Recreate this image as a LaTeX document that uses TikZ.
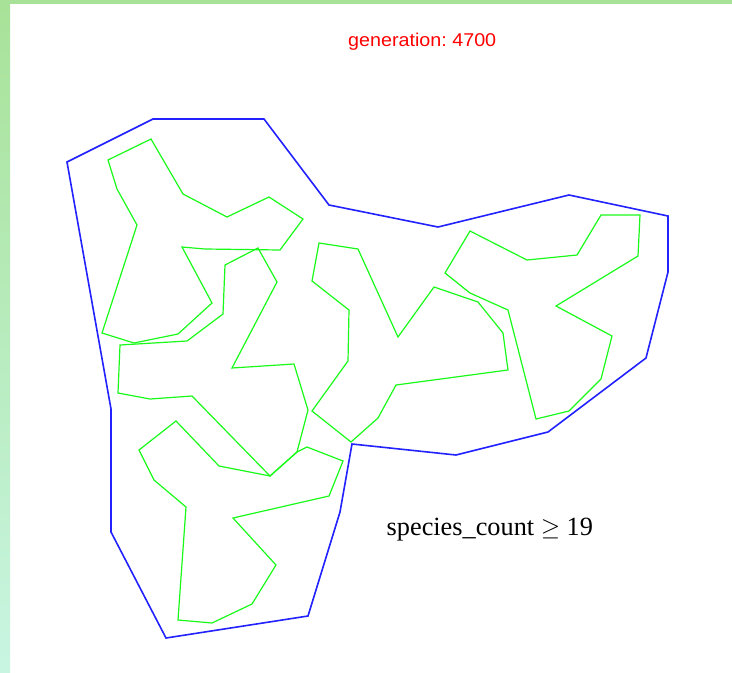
\documentclass[tikz,border=0pt]{standalone}
\usepackage{fontspec}
\setmainfont{Liberation Serif}
\newfontfamily\gensans{Liberation Sans}
\definecolor{stripA}{RGB}{168,226,152}
\definecolor{stripB}{RGB}{186,243,214}
\definecolor{stripC}{RGB}{200,245,226}
\definecolor{hullblue}{RGB}{34,34,255}
\definecolor{polygreen}{RGB}{25,250,25}
\definecolor{genred}{RGB}{255,0,0}
\tikzset{
  hull/.style={draw=hullblue, line width=1.6pt, line join=miter},
  organism/.style={draw=polygreen, line width=1.2pt, line join=miter},
  gentext/.style={text=genred, inner sep=0pt, anchor=base west, font=\gensans\fontsize{18.5}{20}\selectfont},
  labeltext/.style={text=black, inner sep=0pt, anchor=base west, font=\fontsize{26.3}{28}\selectfont}
}
\begin{document}
\begin{tikzpicture}[x=1pt,y=-1pt]
\useasboundingbox (0,0) rectangle (732,673);
\fill[white] (0,0) rectangle (732,673);
% side strips
\shade[top color=stripA, middle color=stripB, bottom color=stripC] (0,0) rectangle (10,673);
\fill[stripA] (0,0) rectangle (732,3.5);
% hull
\draw[hull] (67,162) -- (153,119) -- (264,119) -- (329,205) -- (438,227) -- (569,195) -- (668,216) -- (668,272) -- (646,358) -- (548,432) -- (456,455) -- (352,444) -- (340,512) -- (308,616) -- (166,638) -- (111,532) -- (111,409) -- cycle;
% organisms
\draw[organism] (108,160) -- (151,139) -- (183,194) -- (227,217) -- (269,197) -- (303,219) -- (280,250) -- (205,249) -- (182,247) -- (212,303) -- (178,334) -- (134,343) -- (102,333) -- (137,225) -- (117,189) -- cycle;
\draw[organism] (120,345) -- (187,341) -- (223,314) -- (225,265) -- (258,248) -- (277,282) -- (232,368) -- (294,364) -- (308,410) -- (297,452) -- (270,476) -- (192,396) -- (150,399) -- (118,393) -- cycle;
\draw[organism] (176,421) -- (139,450) -- (154,480) -- (186,507) -- (178,620) -- (212,623) -- (252,604) -- (276,565) -- (233,518) -- (329,496) -- (343,461) -- (307,447) -- (297,452) -- (270,476) -- (219,466) -- cycle;
\draw[organism] (319,243) -- (358,249) -- (398,337) -- (434,287) -- (478,302) -- (503,333) -- (508,370) -- (396,385) -- (378,418) -- (351,442) -- (312,411) -- (348,361) -- (349,310) -- (312,281) -- cycle;
\draw[organism] (470,231) -- (527,260) -- (577,255) -- (601,215) -- (640,215) -- (638,256) -- (556,306) -- (612,336) -- (601,379) -- (569,411) -- (536,419) -- (508,310) -- (470,293) -- (445,273) -- cycle;
% texts
\node[gentext] (gen) at (348,46) {\scalebox{1.066}[1]{generation:\ 4700}};
\node[labeltext] (species) at (386.5,535.5) {species\_count $\geq$ 19};
\end{tikzpicture}
\end{document}
